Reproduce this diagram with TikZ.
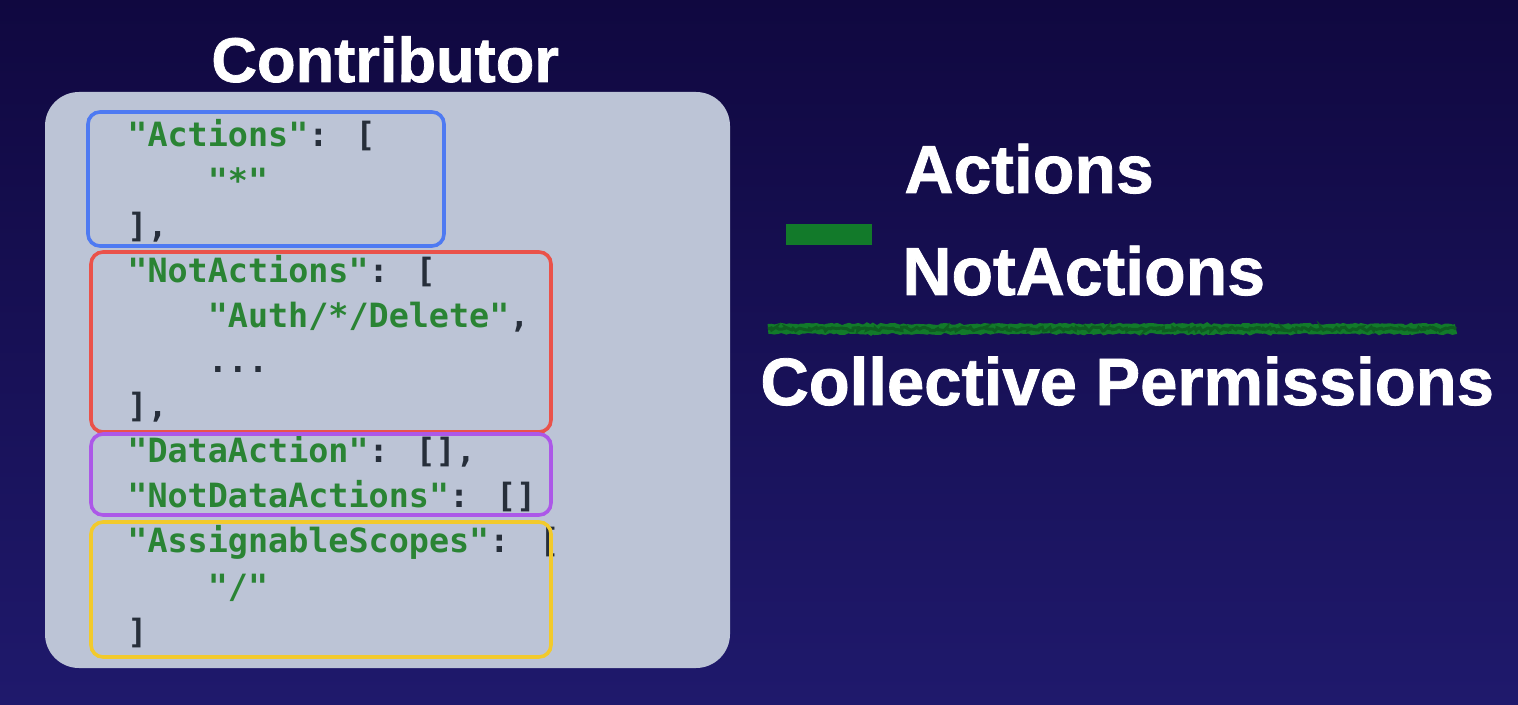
\documentclass[tikz,border=0pt]{standalone}
\usepackage{fontspec}
\setmainfont{Liberation Sans}
\newfontfamily\heavyfont{Liberation Sans Bold}[FakeBold=1.2]
\newfontfamily\codefont{DejaVu Sans Mono}[Ligatures=NoCommon]
\usetikzlibrary{decorations.pathmorphing}
\definecolor{bgtop}{RGB}{16,8,64}
\definecolor{bgbot}{RGB}{31,25,108}
\definecolor{panel}{RGB}{188,196,214}
\definecolor{codegreen}{RGB}{42,132,52}
\definecolor{codedark}{RGB}{38,46,58}
\definecolor{boxblue}{RGB}{78,122,242}
\definecolor{boxred}{RGB}{234,82,74}
\definecolor{boxpurple}{RGB}{172,88,232}
\definecolor{boxyellow}{RGB}{242,202,44}
\definecolor{bargreen}{RGB}{18,122,42}
\newcommand{\gs}[1]{\textcolor{codegreen}{#1}}
\tikzset{
  codeline/.style={anchor=base west, inner sep=0pt, text=codedark,
    font=\codefont\bfseries\fontsize{16.7pt}{20pt}\selectfont},
  bigtitle/.style={anchor=base west, inner sep=0pt, text=white,
    font=\heavyfont\fontsize{31.6pt}{36pt}\selectfont},
  biglabel/.style={anchor=base west, inner sep=0pt, text=white,
    font=\heavyfont\fontsize{34pt}{40pt}\selectfont},
  hbox/.style={line width=1.8pt, rounded corners=6pt},
}
\begin{document}
\begin{tikzpicture}[x=0.5pt,y=-0.5pt]
\pgfmathsetseed{7}
\useasboundingbox (0,0) rectangle (1518,705);
\shade[top color=bgtop, bottom color=bgbot] (0,0) rectangle (1518,705);

% title
\node[bigtitle] (title) at (211,82) {Contributor};

% panel
\fill[panel, rounded corners=17pt] (45,92) rectangle (730,668);

% code lines (baseline 147 + 45.1*i)
\node[codeline] (l0)  at (127,147.0) {\gs{"Actions"}: [};
\node[codeline] (l1)  at (207.4,192.1) {\gs{"*"}};
\node[codeline] (l2)  at (127,237.2) {],};
\node[codeline] (l3)  at (127,282.3) {\gs{"NotActions"}: [};
\node[codeline] (l4)  at (207.4,327.4) {\gs{"Auth/*/Delete"},};
\node[codeline] (l5)  at (207.4,372.5) {...};
\node[codeline] (l6)  at (127,417.6) {],};
\node[codeline] (l7)  at (127,462.7) {\gs{"DataAction"}: [],};
\node[codeline] (l8)  at (127,507.8) {\gs{"NotDataActions"}: []};
\node[codeline] (l9)  at (127,552.9) {\gs{"AssignableScopes"}:};
\node[codeline] (l9b) at (539,552.9) {[};

% highlight boxes
\draw[hbox, boxblue]   (88,112) rectangle (444,246);
\draw[hbox, boxred]    (91,252) rectangle (551,432);
\draw[hbox, boxpurple] (91,434) rectangle (551,515);
\draw[hbox, boxyellow] (91,522) rectangle (551,657);
\node[codeline] (l10) at (207.4,598.0) {\gs{"/"}};
\node[codeline] (l11) at (127,643.1) {]};

% right side
\node[biglabel] (act) at (904,193) {Actions};
\fill[bargreen] (786,224) rectangle (872,245);
\node[biglabel] (nact) at (902,295) {NotActions};
\draw[bargreen, line width=5pt, decorate,
      decoration={random steps, segment length=1.5pt, amplitude=0.5pt}]
      (768,329) -- (1456,329);
\draw[bargreen!75!black, line width=1.5pt, decorate,
      decoration={random steps, segment length=1.2pt, amplitude=1pt}]
      (768,329) -- (1456,329);
\node[biglabel, font=\heavyfont\fontsize{33.5pt}{40pt}\selectfont] (coll) at (760,405) {Collective Permissions};
\end{tikzpicture}
\end{document}
